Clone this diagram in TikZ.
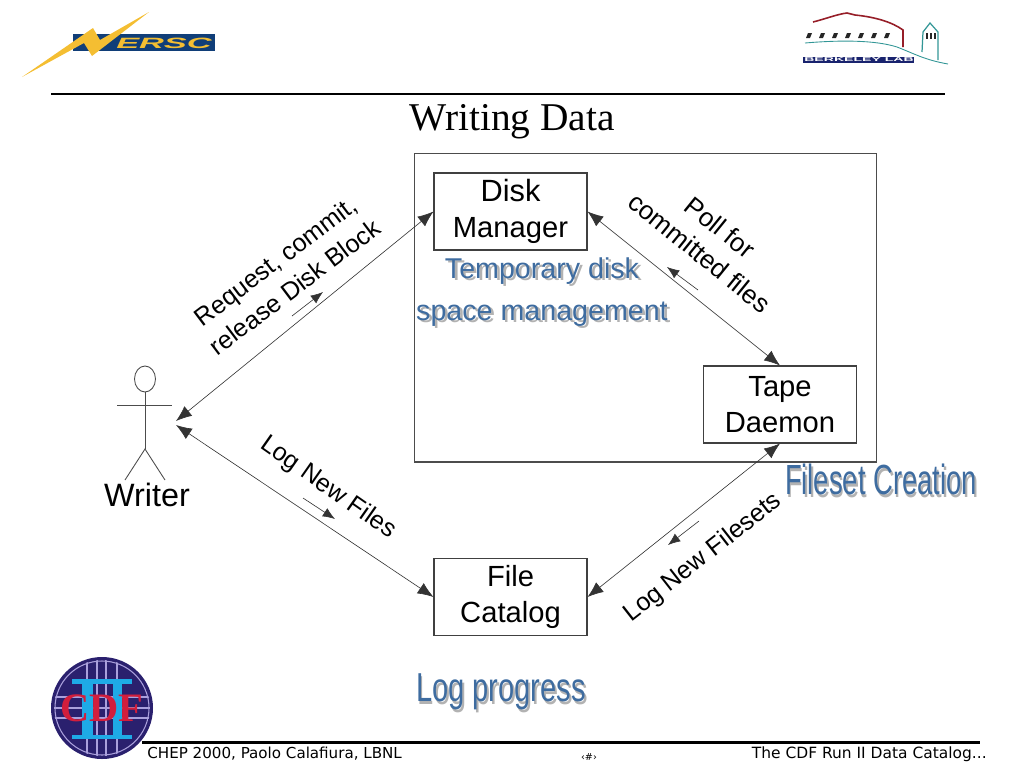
\documentclass[tikz,border=0pt]{standalone}
\usepackage{fontspec}
\setmainfont{Liberation Sans}
\newfontfamily\titlefont{Liberation Serif}
\newfontfamily\footfont{DejaVu Sans}
\usetikzlibrary{arrows.meta,calc,shapes.geometric}
\definecolor{artblue}{RGB}{62,108,160}
\definecolor{artshadow}{RGB}{178,178,178}
\definecolor{nerscblue}{RGB}{16,62,120}
\definecolor{nerscgold}{RGB}{244,190,50}
\definecolor{cdfnavy}{RGB}{42,32,110}
\definecolor{cdfline}{RGB}{170,160,220}
\definecolor{cdfcyan}{RGB}{30,170,230}
\definecolor{cdfred}{RGB}{210,30,60}
\definecolor{lblred}{RGB}{150,30,40}
\definecolor{lblteal}{RGB}{50,150,150}
\definecolor{lblnavy}{RGB}{25,35,110}
\newcommand{\wordart}[1]{\leavevmode\rlap{\kern1.5pt\raisebox{-1.5pt}{\color{artshadow}#1}}{\color{artblue}#1}}

\begin{document}
\begin{tikzpicture}[x=0.02cm,y=-0.02cm,
  block/.style={draw=black!75, line width=0.6pt, fill=white, minimum width=3.06cm,
                minimum height=1.54cm, align=center, font=\fontsize{16.6}{20.6}\selectfont},
  linklabel/.style={font=\fontsize{14.3}{18.5}\selectfont, align=center},
  link/.style={draw=black!80, line width=0.35pt, {Latex[length=9pt,width=7pt]}-{Latex[length=9pt,width=7pt]}},
  flow/.style={draw=black!80, line width=0.35pt, -{Latex[length=7pt,width=5.5pt]}},
  limb/.style={draw=black!70, line width=0.5pt},
  art/.style={align=center, inner sep=0pt}
]
\useasboundingbox (0,0) rectangle (1024,768);

% Rules
\coordinate (tl) at (51,94); \coordinate (tr) at (945,94);
\coordinate (bl) at (142,742); \coordinate (br) at (980,742);
\draw[line width=1.7pt] (tl) -- (tr);
\draw[line width=1.7pt] (bl) -- (br);
\node[font=\titlefont\fontsize{22.4}{26}\selectfont] (title) at (512,122) {Writing Data};

% Boxes
\node[draw=black!70, line width=0.6pt, minimum width=9.26cm, minimum height=6.18cm] (system) at (645.5,307.5) {};
\node[block] (disk) at (510.5,211.5) {\fontsize{17.5}{20.6}\selectfont Disk\\Manager};
\node[block] (tape) at (780,404.5) {Tape\\Daemon};
\node[block] (catalog) at (510.5,597) {File\\Catalog};

% Writer
\node[draw=black!70, line width=0.5pt, ellipse, minimum width=0.42cm, minimum height=0.52cm, inner sep=0pt] (head) at (145,379) {};
\coordinate (hip) at (145,449);
\coordinate (armL) at (117,405); \coordinate (armR) at (172,405);
\coordinate (legL) at (125,480); \coordinate (legR) at (165,480);
\draw[limb] (head.south) -- (hip);
\draw[limb] (armL) -- (armR);
\draw[limb] (legL) -- (hip) -- (legR);
\node[font=\fontsize{18.4}{20}\selectfont] (writer) at (147,495) {Writer};

% Links
\coordinate (w1) at (176,421); \coordinate (w2) at (176,425);
\draw[link] (w1) -- (disk.west);
\draw[link] (w2) -- (catalog.west);
\draw[link] (disk.east) -- (tape.north);
\draw[link] (tape.south) -- (catalog.east);

% Labels
\node[linklabel, rotate=37] (request) at (285,274) {Request, commit,\\release Disk Block};
\node[linklabel, rotate=-39, font=\fontsize{14.8}{18.5}\selectfont] (poll) at (710,240) {Poll for\\committed files};
\node[linklabel, rotate=-35] (lognew) at (328,488) {Log New Files};
\node[linklabel, rotate=38] (logsets) at (703,558) {Log New Filesets};

% Direction marks
\coordinate (f1a) at (292,316); \coordinate (f1b) at (323,292);
\coordinate (f2a) at (698,290); \coordinate (f2b) at (667,267);
\coordinate (f3a) at (303,498); \coordinate (f3b) at (335,519);
\coordinate (f4a) at (699,521); \coordinate (f4b) at (668,545);
\draw[flow] (f1a) -- (f1b);
\draw[flow] (f2a) -- (f2b);
\draw[flow] (f3a) -- (f3b);
\draw[flow] (f4a) -- (f4b);

% Word art
\node[art, font=\fontsize{16.3}{23.8}\selectfont] (tempdisk) at (542,293) {\wordart{Temporary disk}\\\wordart{space management}};
\node[art, font=\fontsize{24}{28}\selectfont, xscale=0.65] (fileset) at (881,481) {\wordart{Fileset Creation}};
\node[art, font=\fontsize{23}{27}\selectfont, xscale=0.72] (logprog) at (501,693) {\wordart{Log progress}};

% Footer
\node[anchor=west, font=\footfont\fontsize{8.6}{10}\selectfont, inner sep=0pt] (footleft) at (147,754) {CHEP 2000, Paolo Calafiura, LBNL};
\node[anchor=east, font=\footfont\fontsize{8.8}{10}\selectfont, inner sep=0pt] (footright) at (987,754) {The CDF Run II Data Catalog...};
\node[font=\footfont\fontsize{5.5}{6}\selectfont, inner sep=0pt] (page) at (589,757) {‹\#›};

% NERSC logo
\fill[nerscblue] (73,34) rectangle (215,51);
\fill[nerscgold] (149,12) -- (100,40) -- (93,28) -- (22,77) -- (84,43) -- (92,56) -- cycle;
\node[font=\bfseries\itshape\fontsize{8.5}{9}\selectfont, text=nerscgold, xscale=2.3, inner sep=0pt] (nersc) at (164,43) {ERSC};

% Berkeley Lab logo
\draw[lblred, line width=0.9pt] (813,22) .. controls (825,19) and (838,14) .. (847,13) -- (855,15)
  .. controls (875,17) and (892,22) .. (903,30) -- (903,47);
\draw[lblteal, line width=0.5pt] (805,43) .. controls (840,40) and (875,40) .. (897,47) .. controls (915,54) and (925,60) .. (948,64);
\draw[lblteal, line width=0.7pt] (938,60) -- (938,32) -- (930,23) -- (923,32) -- (922,52);
\foreach \wx in {808,821,...,888}
  \fill[black!85] (\wx,33) -- (\wx+4,33) -- (\wx+2,38) -- (\wx-2,38) -- cycle;
\foreach \wx in {926,930,934}
  \fill[black!85] (\wx,33) rectangle (\wx+2,39);
\fill[lblnavy] (803,57) rectangle (914,63);
\node[font=\bfseries\fontsize{3.2}{3}\selectfont, text=white, xscale=2.5, inner sep=0pt] (berkeley) at (859,60) {BERKELEY LAB};

% CDF logo
\fill[cdfnavy] (102,708) circle [radius=51];
\begin{scope}
\clip (102,708) circle [radius=48];
\draw[cdfline, line width=0.6pt] (102,708) circle [radius=47];
\foreach \lx in {87,97,106,117}
  \draw[cdfline, line width=0.6pt] (\lx,660) -- (\lx,756);
\foreach \ly in {697,708,718}
  \draw[cdfline, line width=0.6pt] (54,\ly) -- (150,\ly);
\end{scope}
\fill[cdfcyan] (72,679) rectangle (132,684);
\fill[cdfcyan] (72,735) rectangle (132,739);
\fill[cdfcyan] (82,679) rectangle (93,739);
\fill[cdfcyan] (113,679) rectangle (122,739);
\node[font=\titlefont\bfseries\fontsize{23}{25}\selectfont, text=cdfred, inner sep=0pt] (cdf) at (102,708) {CDF};
\end{tikzpicture}
\end{document}
